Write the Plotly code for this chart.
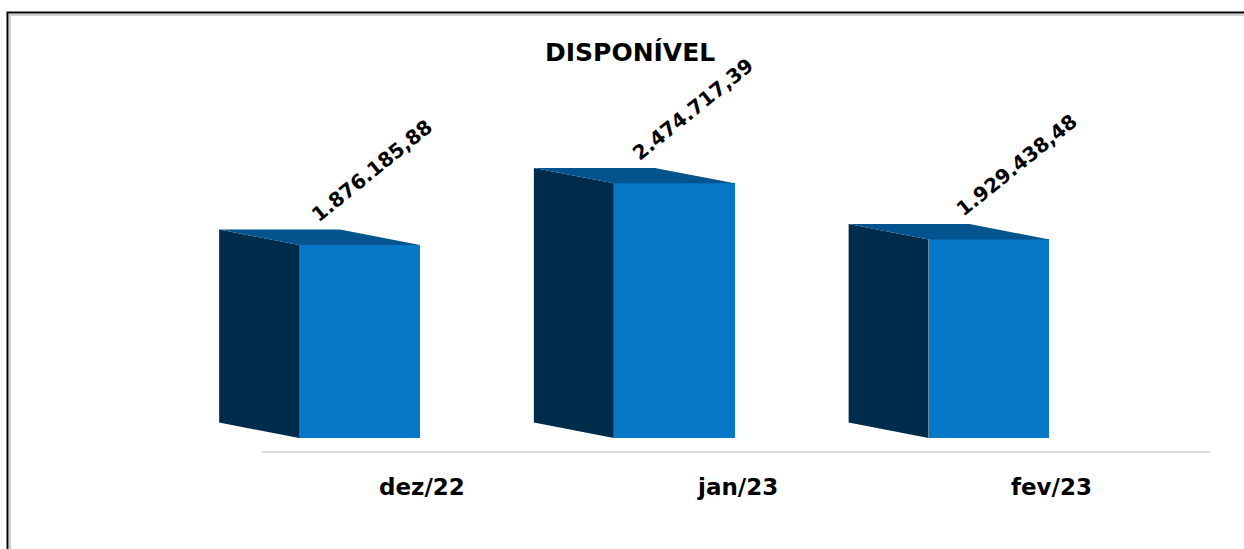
import plotly.graph_objects as go

# ---- data ----
categories = ["dez/22", "jan/23", "fev/23"]
values = [1876185.88, 2474717.39, 1929438.48]
title_text = "DISPONÍVEL"

# ---- style ----
FRONT = "#0777c7"
SIDE = "#002c4b"
TOP = "#03548e"
BAR_W = 0.384
DX = -0.254        # depth offset (x units)
DY = 0.15e6        # depth offset (y units)
FONT = "DejaVu Sans"
LABEL_XSHIFT = [12, 19, 28]   # pixel nudges of the value labels
LABEL_YSHIFT = 74


def br(v):
    s = f"{v:,.2f}"
    return s.replace(",", "X").replace(".", ",").replace("X", ".")


xs = list(range(len(categories)))
fig = go.Figure()

# side faces and top faces (computed from the data values)
for i, v in zip(xs, values):
    L = i - BAR_W / 2
    R = i + BAR_W / 2
    fig.add_trace(go.Scatter(
        x=[L, L + DX, L + DX, L, L], y=[0, DY, v + DY, v, 0],
        fill="toself", fillcolor=SIDE, mode="lines",
        line=dict(width=0, color=SIDE), hoverinfo="skip", showlegend=False))
    fig.add_trace(go.Scatter(
        x=[L, L + DX, R + DX, R, L], y=[v, v + DY, v + DY, v, v],
        fill="toself", fillcolor=TOP, mode="lines",
        line=dict(width=0, color=TOP), hoverinfo="skip", showlegend=False))

# front faces
fig.add_trace(go.Bar(x=xs, y=values, width=BAR_W, marker=dict(color=FRONT, line=dict(width=0)),
                     showlegend=False, hoverinfo="skip"))

# value labels
for i, v in zip(xs, values):
    fig.add_annotation(x=i, y=v, xref="x", yref="y", text=br(v),
                       textangle=-39, showarrow=False, xshift=LABEL_XSHIFT[i], yshift=LABEL_YSHIFT,
                       xanchor="center", yanchor="middle",
                       font=dict(family=FONT, size=20, color="black", weight="bold"))

# category labels
for i, c in zip(xs, categories):
    fig.add_annotation(x=i + 0.2, y=1 - 487 / 549, xref="x", yref="paper", text=c,
                       showarrow=False, xanchor="center", yanchor="middle",
                       font=dict(family=FONT, size=23, color="black", weight="bold"))

# title
fig.add_annotation(x=630 / 1244, y=1 - 53 / 549, xref="paper", yref="paper", text=title_text,
                   showarrow=False, xanchor="center", yanchor="middle",
                   font=dict(family=FONT, size=25, color="black", weight="bold"))

# baseline
fig.add_shape(type="line", xref="x", yref="y", x0=-0.31, x1=2.702, y0=-0.136e6, y1=-0.136e6,
              line=dict(color="#d9d9d9", width=2))

# frame
fig.add_shape(type="rect", xref="paper", yref="paper", x0=10 / 1244, x1=1.02, y0=-0.02, y1=1 - 15 / 549,
              line=dict(color="#d0d0d0", width=2))
fig.add_shape(type="rect", xref="paper", yref="paper", x0=7.5 / 1244, x1=1.02, y0=-0.02, y1=1 - 12.5 / 549,
              line=dict(color="black", width=2))

fig.update_layout(
    width=1244, height=549,
    margin=dict(l=0, r=0, t=0, b=0),
    paper_bgcolor="white", plot_bgcolor="white",
    xaxis=dict(range=[-1.1422, 2.8102], visible=False, fixedrange=True),
    yaxis=dict(range=[-1.0787e6, 4.2566e6], visible=False, fixedrange=True),
    bargap=0,
)

fig.write_html("out.html", config={"displayModeBar": False},
               post_script="document.body.style.margin='0';document.body.style.overflow='hidden';")
